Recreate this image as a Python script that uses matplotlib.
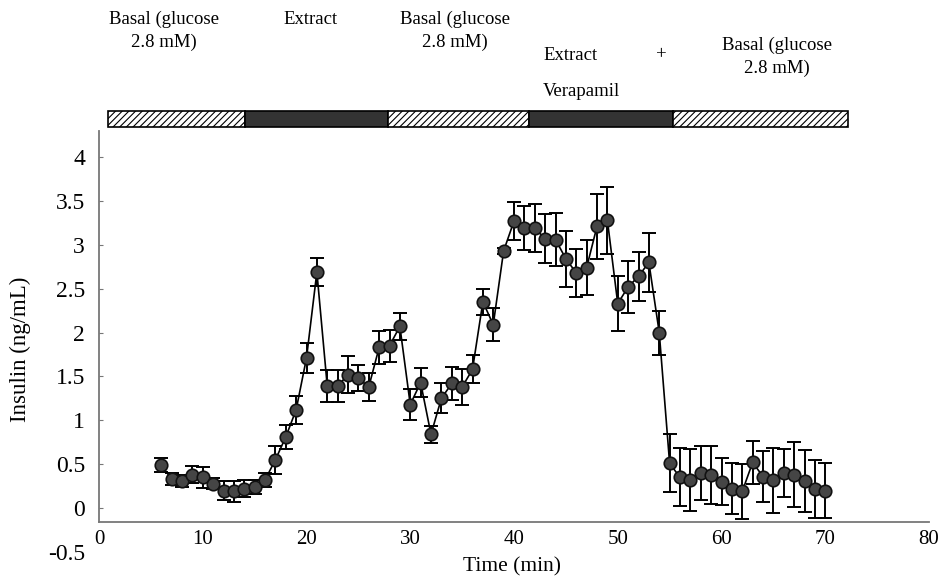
import matplotlib
matplotlib.use("Agg")
import matplotlib.pyplot as plt
from matplotlib.patches import Rectangle
import numpy as np

plt.rcParams['font.family'] = ['Liberation Serif', 'DejaVu Serif']
plt.rcParams['hatch.linewidth'] = 0.8

# ---- data ----
time_min = list(range(6, 71))
insulin = [0.49, 0.33, 0.31, 0.38, 0.35, 0.28, 0.20, 0.19, 0.22, 0.24,
           0.32, 0.55, 0.81, 1.12, 1.71, 2.69, 1.39, 1.39, 1.52, 1.48,
           1.38, 1.83, 1.85, 2.07, 1.18, 1.43, 0.84, 1.25, 1.42, 1.38,
           1.58, 2.35, 2.09, 2.93, 3.27, 3.19, 3.19, 3.07, 3.06, 2.84,
           2.68, 2.74, 3.21, 3.28, 2.33, 2.52, 2.64, 2.80, 2.00, 0.51,
           0.35, 0.32, 0.40, 0.38, 0.30, 0.22, 0.19, 0.52, 0.36, 0.32,
           0.40, 0.38, 0.31, 0.22, 0.20]
sem = [0.08, 0.07, 0.07, 0.095, 0.12, 0.06, 0.11, 0.12, 0.095, 0.08,
       0.076, 0.16, 0.14, 0.16, 0.17, 0.16, 0.18, 0.18, 0.21, 0.15,
       0.165, 0.185, 0.18, 0.155, 0.18, 0.165, 0.10, 0.17, 0.19, 0.20,
       0.16, 0.15, 0.19, 0.03, 0.22, 0.25, 0.27, 0.28, 0.30, 0.32,
       0.275, 0.315, 0.37, 0.38, 0.31, 0.30, 0.275, 0.34, 0.25, 0.33,
       0.33, 0.35, 0.31, 0.33, 0.27, 0.29, 0.31, 0.25, 0.29, 0.37,
       0.27, 0.37, 0.35, 0.33, 0.31]

phase_edges = [0.9, 14.1, 27.9, 41.4, 55.3, 72.2]
phase_dark = [False, True, False, True, False]

x_ticks = [0, 10, 20, 30, 40, 50, 60, 70, 80]
y_ticks = [-0.5, 0, 0.5, 1, 1.5, 2, 2.5, 3, 3.5, 4]
y_ticklabels = ['-0.5', '0', '0.5', '1', '1.5', '2', '2.5', '3', '3.5', '4']

# ---- figure ----
W, H = 943, 582
fig = plt.figure(figsize=(W / 100, H / 100), dpi=100)
ax_h = 552 - 130.7
ax = fig.add_axes([99 / W, 1 - 552 / H, 830 / W, ax_h / H])

ax.errorbar(time_min, insulin, yerr=sem, fmt='none', ecolor='black',
            elinewidth=1.4, capsize=5, capthick=1.4, zorder=2)
ax.plot(time_min, insulin, color='black', lw=1.2, marker='o', ms=9,
        mfc='#454545', mec='#111111', mew=1.2, zorder=3)

ax.set_xlim(0, 80)
ax.set_ylim(-0.5, 4.3)
ax.set_xticks(x_ticks)
ax.set_yticks(y_ticks)
ax.set_yticklabels(y_ticklabels)

axis_y = -0.16
for s in ['top', 'right']:
    ax.spines[s].set_visible(False)
ax.spines['bottom'].set_position(('data', axis_y))
ax.spines['left'].set_bounds(axis_y, 4.3)
for s in ['bottom', 'left']:
    ax.spines[s].set_color('#777777')
    ax.spines[s].set_linewidth(1.3)

ax.tick_params(axis='x', length=0, labelsize=15, pad=6)
ax.tick_params(axis='y', length=3, direction='in', color='#777777',
               labelsize=17, pad=10)
ax.yaxis.get_major_ticks()[0].tick1line.set_visible(False)

ax.set_xlabel('Time (min)', fontsize=15.5)
ax.xaxis.set_label_coords((512 - 99) / 830, -(557 - 552) / ax_h)
ax.set_ylabel('Insulin (ng/mL)', fontsize=16.5)
ax.yaxis.set_label_coords(-(99 - 31) / 830, (552 - 349) / ax_h)

# ---- treatment bar ----
bar_bottom, bar_top = 4.338, 4.524
for i, dark in enumerate(phase_dark):
    x0, x1 = phase_edges[i], phase_edges[i + 1]
    if dark:
        r = Rectangle((x0, bar_bottom), x1 - x0, bar_top - bar_bottom,
                      facecolor='#333333', edgecolor='black', lw=1.2,
                      clip_on=False, zorder=4)
    else:
        r = Rectangle((x0, bar_bottom), x1 - x0, bar_top - bar_bottom,
                      facecolor='white', edgecolor='black', lw=1.2,
                      hatch='/////', clip_on=False, zorder=4)
    ax.add_patch(r)


def ftxt(px, py, s, ha='center', size=13.5):
    fig.text(px / W, 1 - py / H, s, ha=ha, va='center', fontsize=size,
             linespacing=1.45)

ftxt(164, 31, 'Basal (glucose\n2.8 mM)')
ftxt(311, 19, 'Extract')
ftxt(455, 31, 'Basal (glucose\n2.8 mM)')
ftxt(543, 56, 'Extract', ha='left')
ftxt(661, 55, '+')
ftxt(543, 92, 'Verapamil', ha='left')
ftxt(777, 57, 'Basal (glucose\n2.8 mM)')

fig.savefig('out.png', dpi=100, facecolor='white')
